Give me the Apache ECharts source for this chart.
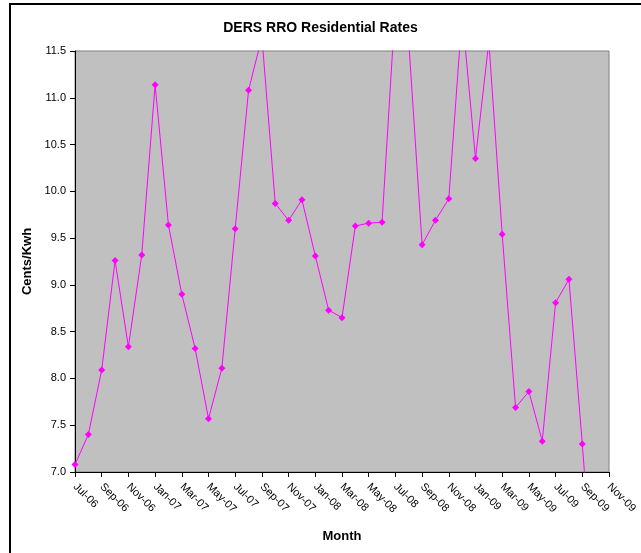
<!DOCTYPE html>
<html>
<head>
<meta charset="utf-8">
<title>DERS RRO Residential Rates</title>
<script src="https://cdn.jsdelivr.net/npm/echarts@6/dist/echarts.min.js"></script>
<style>
  html, body { margin: 0; padding: 0; background: #fff; }
  #main { width: 641px; height: 553px; }
</style>
</head>
<body>
<div id="main"></div>
<script>
// months on the x axis (one per month, labels shown every other one)
var months = [
    'Jul-06', 'Aug-06', 'Sep-06', 'Oct-06', 'Nov-06', 'Dec-06',
    'Jan-07', 'Feb-07', 'Mar-07', 'Apr-07', 'May-07', 'Jun-07',
    'Jul-07', 'Aug-07', 'Sep-07', 'Oct-07', 'Nov-07', 'Dec-07',
    'Jan-08', 'Feb-08', 'Mar-08', 'Apr-08', 'May-08', 'Jun-08',
    'Jul-08', 'Aug-08', 'Sep-08', 'Oct-08', 'Nov-08', 'Dec-08',
    'Jan-09', 'Feb-09', 'Mar-09', 'Apr-09', 'May-09', 'Jun-09',
    'Jul-09', 'Aug-09', 'Sep-09', 'Oct-09', 'Nov-09'
]
// cents per kwh (values above 11.5 / below 7.0 are clipped)
var rates = [
    7.08, 7.40, 8.09, 9.26, 8.34, 9.32,
    11.14, 9.64, 8.90, 8.32, 7.57, 8.11,
    9.60, 11.08, 11.65, 9.87, 9.69, 9.91,
    9.31, 8.73, 8.65, 9.63, 9.66, 9.67,
    12.0, 11.6, 9.43, 9.69, 9.92, 11.9,
    10.35, 11.6, 9.54, 7.69, 7.86, 7.33,
    8.81, 9.06, 7.30, 5.4
]
var yMin = 7.0
var yMax = 11.5
var yStep = 0.5

var myChart = echarts.init(document.getElementById('main'));

var option = {
    backgroundColor: '#ffffff',
    animation: false,
    // 外框
    graphic: [{
        type: 'rect',
        shape: { x: 10, y: 4, width: 700, height: 600 },
        style: { fill: 'none', stroke: '#000000', lineWidth: 2 },
        silent: true
    }],
    title: {
        text: 'DERS RRO Residential Rates',
        left: 'center',
        top: 16,
        textStyle: {
            fontFamily: 'Liberation Sans, Arial, sans-serif',
            fontSize: 14,
            fontWeight: 'bold',
            color: '#000000'
        }
    },
    grid: {
        left: 75,
        right: 32,
        top: 51,
        bottom: 81,
        show: true,
        backgroundColor: '#C0C0C0',
        borderColor: '#808080',
        borderWidth: 1
    },
    xAxis: {
        type: 'category',
        data: months,
        boundaryGap: false,
        name: 'Month',
        nameLocation: 'middle',
        nameGap: 58,
        nameTextStyle: {
            fontFamily: 'Liberation Sans, Arial, sans-serif',
            fontSize: 13,
            fontWeight: 'bold',
            color: '#000000'
        },
        axisLine: { lineStyle: { color: '#000000', width: 1 } },
        axisTick: { interval: 1, length: 5, lineStyle: { color: '#000000' } },
        axisLabel: {
            interval: 1,
            rotate: -45,
            margin: 13,
            fontFamily: 'Liberation Sans, Arial, sans-serif',
            fontSize: 11,
            color: '#000000'
        },
        splitLine: { show: false }
    },
    yAxis: {
        type: 'value',
        min: yMin,
        max: yMax,
        interval: yStep,
        name: 'Cents/Kwh',
        nameLocation: 'middle',
        nameGap: 40,
        nameTextStyle: {
            fontFamily: 'Liberation Sans, Arial, sans-serif',
            fontSize: 13,
            fontWeight: 'bold',
            color: '#000000'
        },
        axisLine: { show: true, lineStyle: { color: '#000000', width: 1 } },
        axisTick: { show: true, length: 5, lineStyle: { color: '#000000' } },
        axisLabel: {
            margin: 9,
            fontFamily: 'Liberation Sans, Arial, sans-serif',
            fontSize: 11,
            color: '#000000',
            formatter: function (v) { return v.toFixed(1); }
        },
        splitLine: { show: false }
    },
    series: [{
        name: 'Rate',
        type: 'line',
        data: rates,
        clip: true,
        symbol: 'diamond',
        symbolSize: 7,
        showAllSymbol: true,
        color: '#FF00FF',
        lineStyle: { color: '#FF00FF', width: 1 },
        itemStyle: { color: '#FF00FF' }
    }]
};

myChart.setOption(option);
</script>
</body>
</html>
